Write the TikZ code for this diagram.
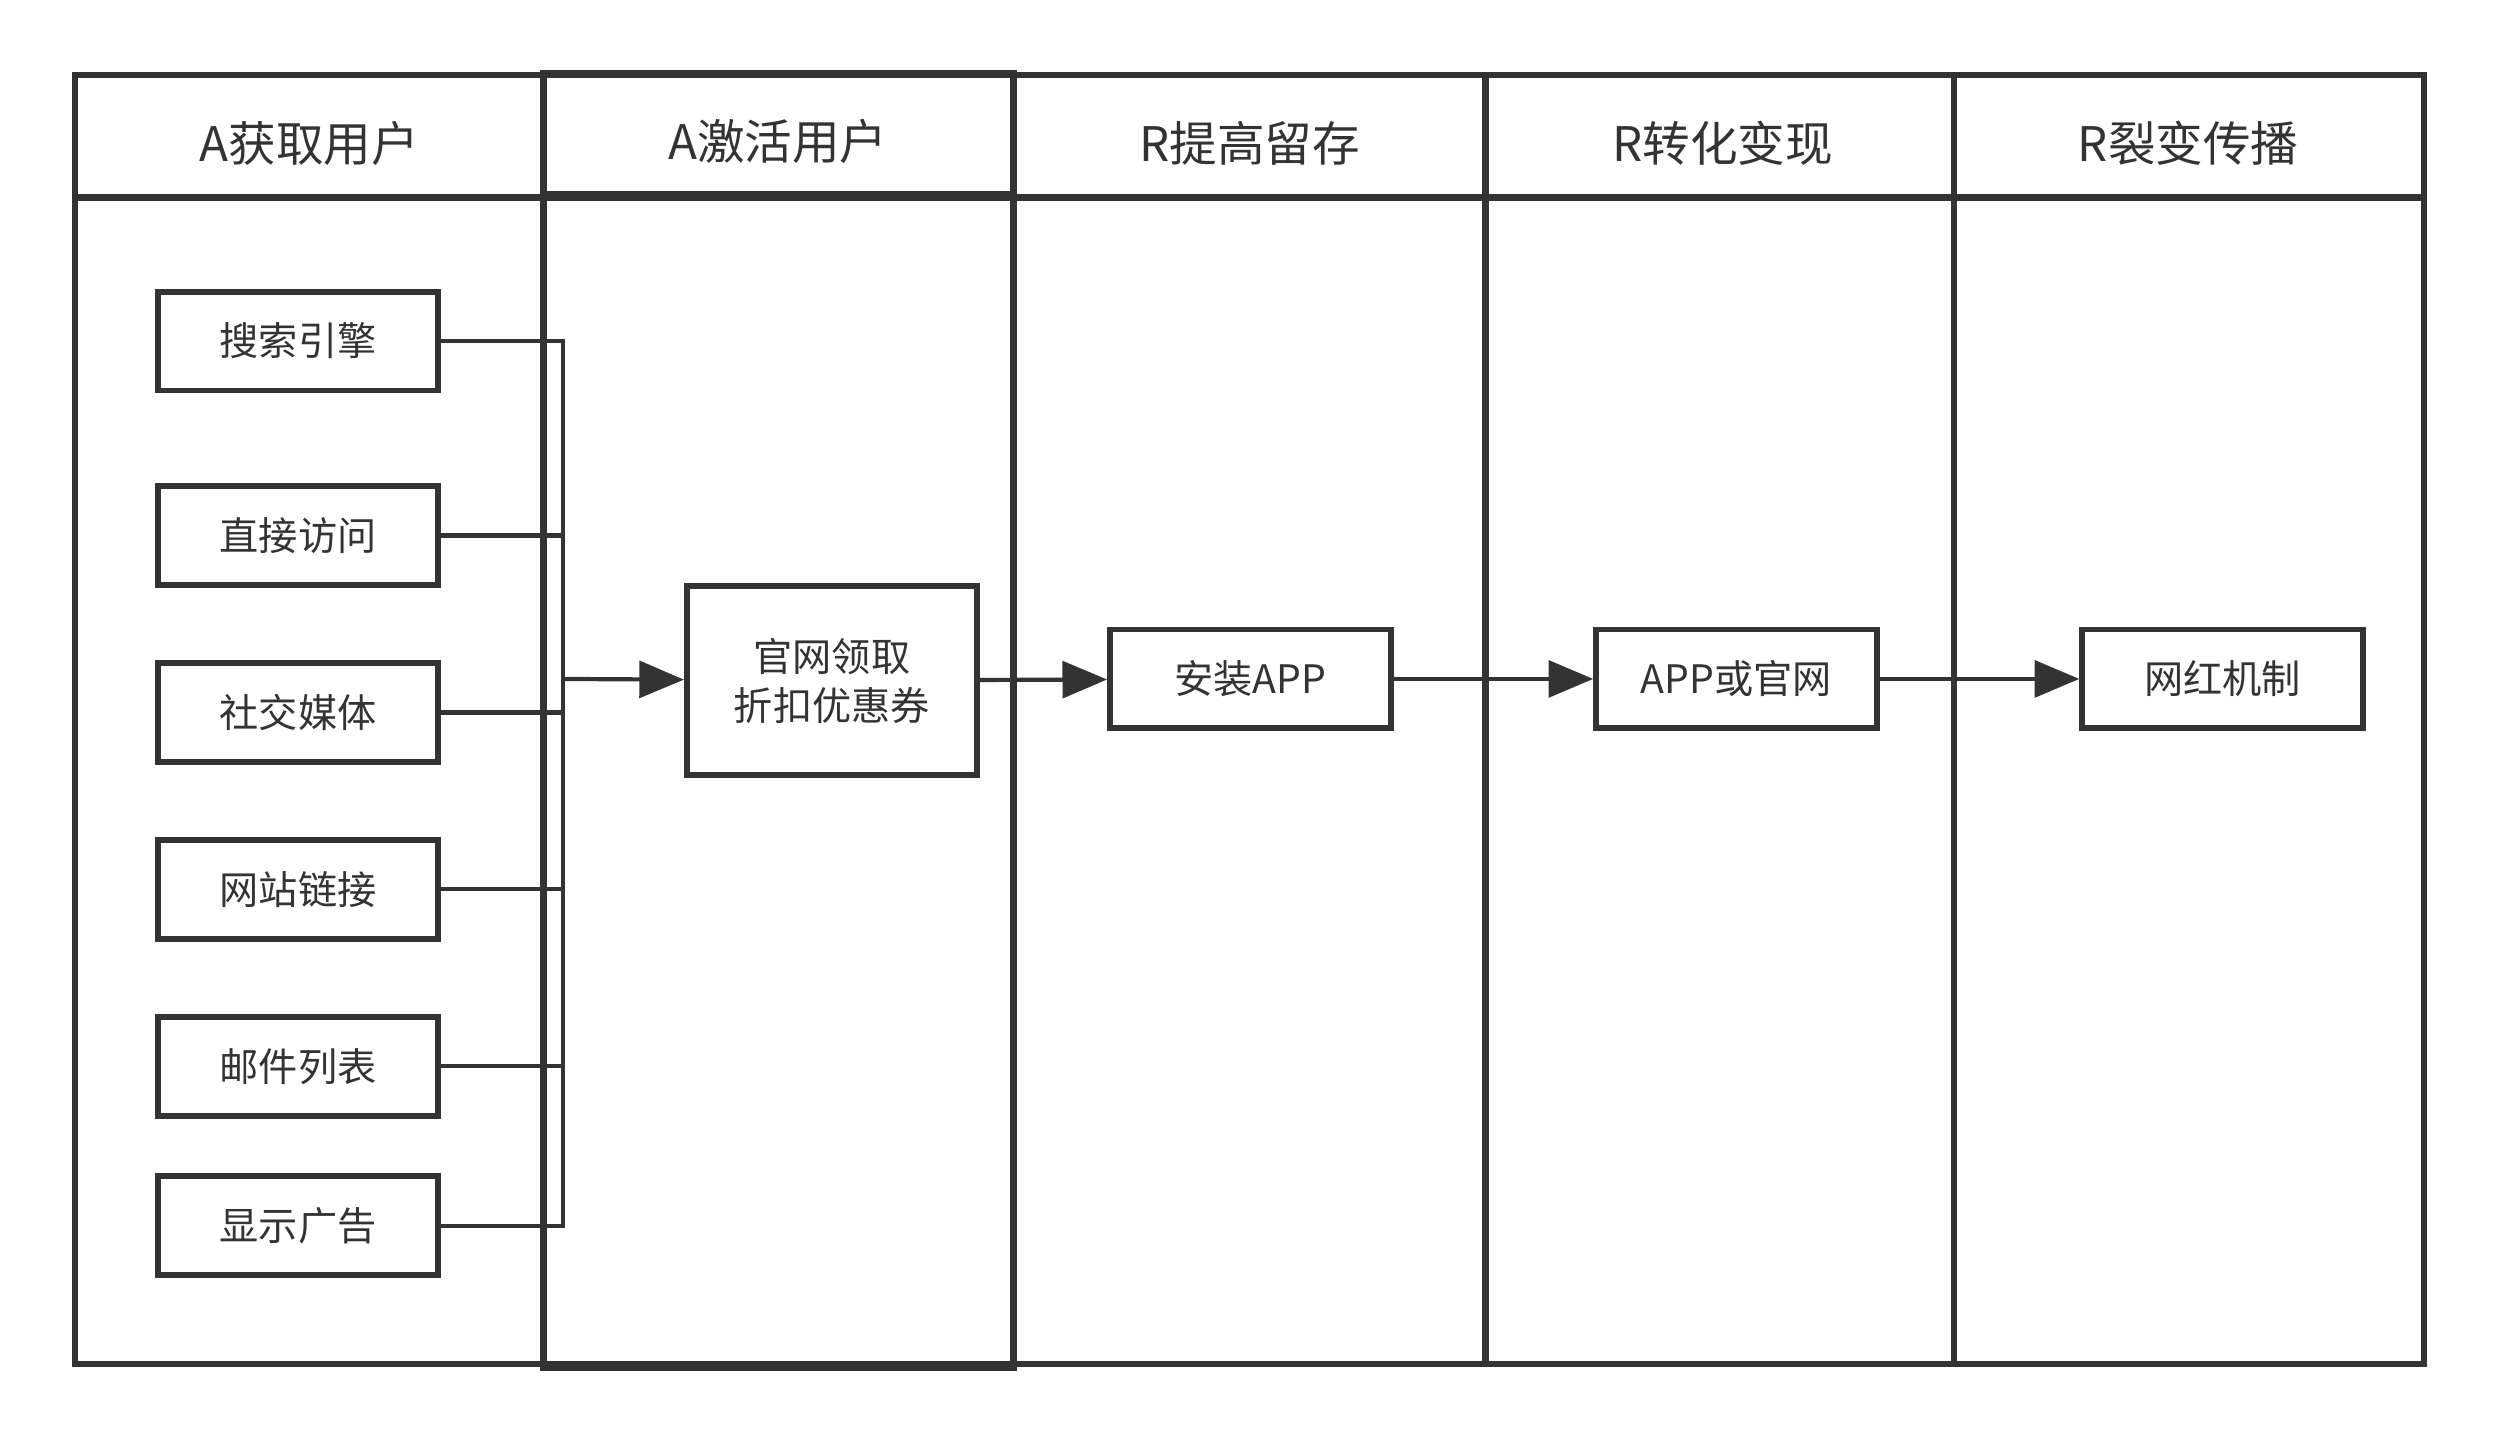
\documentclass[tikz,border=0pt]{standalone}
\usepackage{fontspec}
\setmainfont{Noto Sans CJK SC}
\usepackage{tikz}
\usetikzlibrary{arrows.meta,positioning}
\usepackage{xcolor}
\definecolor{ink}{RGB}{51,51,51}
\tikzset{
  lane/.style={draw=ink,line width=2.3pt},
  head/.style={text=ink,font=\fontsize{17}{20}\selectfont,inner sep=0pt},
  src/.style={draw=ink,line width=2.1pt,text=ink,minimum width=35.2mm,
    minimum height=12.4mm,inner sep=2pt,font=\fontsize{14}{17}\selectfont},
  stagebox/.style={src,align=center},
  link/.style={draw=ink,line width=1.5pt},
  ar/.style={link,-{Triangle[length=5.6mm,width=4.6mm]}},
}

\begin{document}
\begin{tikzpicture}[x=0.2mm,y=-0.2mm]
  \useasboundingbox (0,0) rectangle (1568,905);
  % swimlanes
  \draw[lane] (47,47) rectangle (1521,856);
  \draw[lane] (47,124) -- (1521,124);
  \draw[lane] (932,47) -- (932,856);
  \draw[lane] (1226,47) -- (1226,856);
  \draw[lane] (341,46) rectangle (636,858);
  \draw[lane] (341,122) -- (636,122);
  \node[head] (h1) at (194,90) {A获取用户};
  \node[head] (h2) at (488,89) {A激活用户};
  \node[head] (h3) at (784,90) {R提高留存};
  \node[head] (h4) at (1081,90) {R转化变现};
  \node[head] (h5) at (1373,90) {R裂变传播};
  % channels
  \node[src] (search) at (187,214) {搜索引擎};
  \node[src] (direct) at (187,336) {直接访问};
  \node[src] (social) at (187,447) {社交媒体};
  \node[src] (links)  at (187,558) {网站链接};
  \node[src] (mail)   at (187,669) {邮件列表};
  \node[src] (ads)    at (187,769) {显示广告};
  \coordinate (bus) at (353,426);
  % stages
  \node[stagebox,minimum width=36.4mm,minimum height=23.8mm] (coupon) at (522,427)
    {官网领取\\[0.5pt]折扣优惠券};
  \node[stagebox] (install) at (784.5,426) {安装APP};
  \node[stagebox] (pay) at (1089.5,426) {APP或官网};
  \node[stagebox] (viral) at (1394.5,426) {网红机制};
  % connectors
  \draw[link] (search.east) -| (bus);
  \draw[link] (direct.east) -| (bus);
  \draw[link] (social.east) -| (bus);
  \draw[link] (links.east) -| (bus);
  \draw[link] (mail.east) -| (bus);
  \draw[link] (ads.east) -| (bus);
  \draw[ar] (bus) -- (coupon);
  \draw[ar] (coupon) -- (install);
  \draw[ar] (install) -- (pay);
  \draw[ar] (pay) -- (viral);
\end{tikzpicture}
\end{document}
